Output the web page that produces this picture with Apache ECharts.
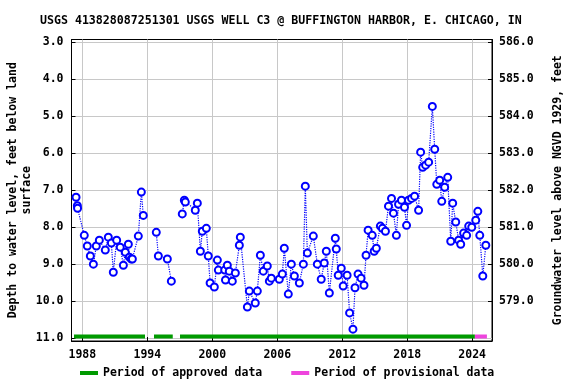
<!DOCTYPE html>
<html>
<head>
<meta charset="utf-8">
<script src="https://cdn.jsdelivr.net/npm/echarts@6/dist/echarts.min.js"></script>
<style>
html,body{margin:0;padding:0;background:#fff;}
#chart{width:576px;height:384px;}
</style>
</head>
<body>
<div id="chart"></div>
<script>
// ---- data (decimal year, depth to water in feet below land surface; null = gap) ----
const dates = [
  1987.42,1987.54,1987.56,1988.18,1988.46,1988.74,1989.02,1989.29,1989.57,1990.12,
  1990.40,1990.68,1990.86,1991.17,1991.50,1991.79,1991.97,1992.25,1992.34,1992.52,
  1992.62,1993.17,1993.45,1993.63,null,
  1994.83,1995.02,1995.85,1996.22,null,
  1997.23,1997.42,1997.51,1998.43,1998.62,1998.90,1999.08,1999.45,1999.63,1999.80,
  2000.19,2000.47,2000.56,2001.15,2001.22,2001.39,2001.57,2001.85,2002.13,2002.50,
  2002.59,2003.24,2003.42,2003.97,2004.16,2004.44,2004.71,2005.08,2005.27,2005.45,
  2006.19,2006.47,2006.65,2007.02,2007.30,2007.58,2008.04,2008.41,2008.59,2008.78,
  2009.33,2009.70,2010.06,2010.34,2010.53,2010.81,2011.36,2011.45,2011.63,2011.91,
  2012.09,2012.45,2012.68,2012.99,2013.18,2013.46,2013.74,2014.01,2014.20,2014.39,
  2014.77,2014.95,2015.15,2015.52,2015.71,2015.99,2016.27,2016.55,2016.73,2017.00,
  2017.20,2017.47,2017.75,2017.94,2018.12,2018.40,2018.68,2019.05,2019.24,2019.43,
  2019.70,2019.98,2020.32,2020.54,2020.73,2021.00,2021.19,2021.46,2021.74,2022.02,
  2022.20,2022.48,2022.75,2022.94,2023.21,2023.49,2023.68,2023.96,2024.33,2024.52,
  2024.70,2024.98,2025.26
];
const depths = [
  7.19,7.42,7.49,8.22,8.51,8.78,9.00,8.51,8.35,8.62,
  8.27,8.43,9.22,8.35,8.54,9.03,8.68,8.46,8.81,8.86,
  8.86,8.24,7.05,7.68,null,
  8.14,8.78,8.86,9.46,null,
  7.64,7.27,7.32,7.54,7.35,8.65,8.11,8.03,8.78,9.51,
  9.62,8.89,9.16,9.16,9.43,9.03,9.19,9.46,9.24,8.49,
  8.27,10.16,9.73,10.05,9.73,8.76,9.19,9.05,9.46,9.38,
  9.41,9.27,8.57,9.81,9.00,9.32,9.51,9.00,6.89,8.70,
  8.24,9.00,9.41,8.97,8.65,9.78,8.30,8.59,9.30,9.11,
  9.59,9.30,10.32,10.76,9.64,9.27,9.38,9.57,8.76,8.08,
  8.22,8.65,8.57,7.97,8.03,8.11,7.43,7.22,7.62,8.22,
  7.38,7.27,7.46,7.95,7.27,7.22,7.16,7.54,5.97,6.38,
  6.32,6.24,4.73,5.89,6.84,6.73,7.30,6.92,6.65,8.38,
  7.35,7.86,8.35,8.46,8.16,8.22,7.97,8.00,7.81,7.57,
  8.22,9.32,8.49
];
// approved / provisional data periods (start, end in decimal years)
const approvedPeriods = [[1987.23,1993.79],[1994.62,1996.35],[1997.02,2024.25]];
const provisionalPeriods = [[2024.25,2025.36]];
const periodBarDepth = 10.96;
const xTickYears = [1988,1994,2000,2006,2012,2018,2024];
const leftTicks = [3,4,5,6,7,8,9,10,11];
const rightTicks = [579,580,581,582,583,584,585,586];
const datumOffset = 589; // elevation = datumOffset - depth

const titleText = 'USGS 413828087251301 USGS WELL C3 @ BUFFINGTON HARBOR, E. CHICAGO, IN';
const leftName = 'Depth to water level, feet below land\nsurface';
const rightName = 'Groundwater level above NGVD 1929, feet';

// ---- build series data ----
const obsData = dates.map((d, i) => (d === null || depths[i] === null) ? '-' : [d, depths[i]]);
function periodData(periods) {
  const out = [];
  periods.forEach((p, i) => {
    if (i > 0) out.push('-');
    out.push([p[0], periodBarDepth]);
    out.push([p[1], periodBarDepth]);
  });
  return out;
}

const FONT = 'DejaVu Sans Mono';
const txt = {fontFamily: FONT, fontWeight: 'bold', fontSize: 11.5, color: '#000'};
const yMin = 2.92, yMax = 11.08;

const chart = echarts.init(document.getElementById('chart'), null, {renderer: 'canvas'});
chart.setOption({
  animation: false,
  backgroundColor: '#fff',
  title: {
    text: titleText,
    left: 35, top: 10,
    textStyle: {fontFamily: FONT, fontWeight: 'bold', fontSize: 11.6, color: '#000'}
  },
  grid: {
    left: 71.5, right: 84, top: 39.5, bottom: 43,
    containLabel: false, outerBoundsMode: 'none',
    show: true, borderColor: '#000', borderWidth: 1, backgroundColor: 'transparent'
  },
  legend: {
    left: 75, top: 362,
    itemWidth: 18, itemHeight: 4, itemGap: 29, icon: 'rect',
    textStyle: Object.assign({}, txt, {padding: [0, 0, 0, 0]}),
    data: ['Period of approved data', 'Period of provisional data']
  },
  xAxis: {
    type: 'value', min: 1987.0, max: 2025.83,
    axisLine: {show: true, lineStyle: {color: '#000'}},
    axisTick: {show: true, inside: true, length: 4, lineStyle: {color: '#000'}, customValues: xTickYears},
    axisLabel: Object.assign({}, txt, {customValues: xTickYears, margin: 8, formatter: v => String(v)}),
    splitLine: {show: true, lineStyle: {color: '#c8c8c8', width: 1}}
  },
  yAxis: [
    {
      type: 'value', inverse: true, min: yMin, max: yMax, position: 'left',
      name: leftName, nameLocation: 'middle', nameGap: 37, nameRotate: 90,
      nameMoveOverlap: false,
      nameTextStyle: Object.assign({}, txt, {lineHeight: 14}),
      axisLine: {show: true, lineStyle: {color: '#000'}},
      axisTick: {show: true, inside: true, length: 4, lineStyle: {color: '#000'}, customValues: leftTicks},
      axisLabel: Object.assign({}, txt, {customValues: leftTicks, margin: 8, formatter: v => v.toFixed(1)}),
      splitLine: {show: true, lineStyle: {color: '#c8c8c8', width: 1}}
    },
    {
      type: 'value', min: datumOffset - yMax, max: datumOffset - yMin, position: 'right',
      name: rightName, nameLocation: 'middle', nameGap: 60, nameRotate: 90,
      nameMoveOverlap: false,
      nameTextStyle: txt,
      axisLine: {show: true, lineStyle: {color: '#000'}},
      axisTick: {show: true, inside: true, length: 4, lineStyle: {color: '#000'}, customValues: rightTicks},
      axisLabel: Object.assign({}, txt, {customValues: rightTicks, margin: 7, formatter: v => v.toFixed(1)}),
      splitLine: {show: false}
    }
  ],
  series: [
    {
      name: 'Period of approved data', type: 'line', yAxisIndex: 0,
      data: periodData(approvedPeriods), showSymbol: false, symbol: 'none',
      lineStyle: {color: '#009a00', width: 4}, itemStyle: {color: '#009a00'},
      connectNulls: false, silent: true, z: 3
    },
    {
      name: 'Period of provisional data', type: 'line', yAxisIndex: 0,
      data: periodData(provisionalPeriods), showSymbol: false, symbol: 'none',
      lineStyle: {color: '#ee44dd', width: 4}, itemStyle: {color: '#ee44dd'},
      silent: true, z: 3
    },
    {
      name: 'obs', type: 'line', yAxisIndex: 0,
      data: obsData, connectNulls: false,
      symbol: 'emptyCircle', symbolSize: 7, showSymbol: true,
      lineStyle: {color: '#0000ff', width: 1.2, type: 'dotted'},
      itemStyle: {color: '#0000ff', borderColor: '#0000ff', borderWidth: 1.2},
      z: 4
    }
  ]
});
</script>
</body>
</html>
